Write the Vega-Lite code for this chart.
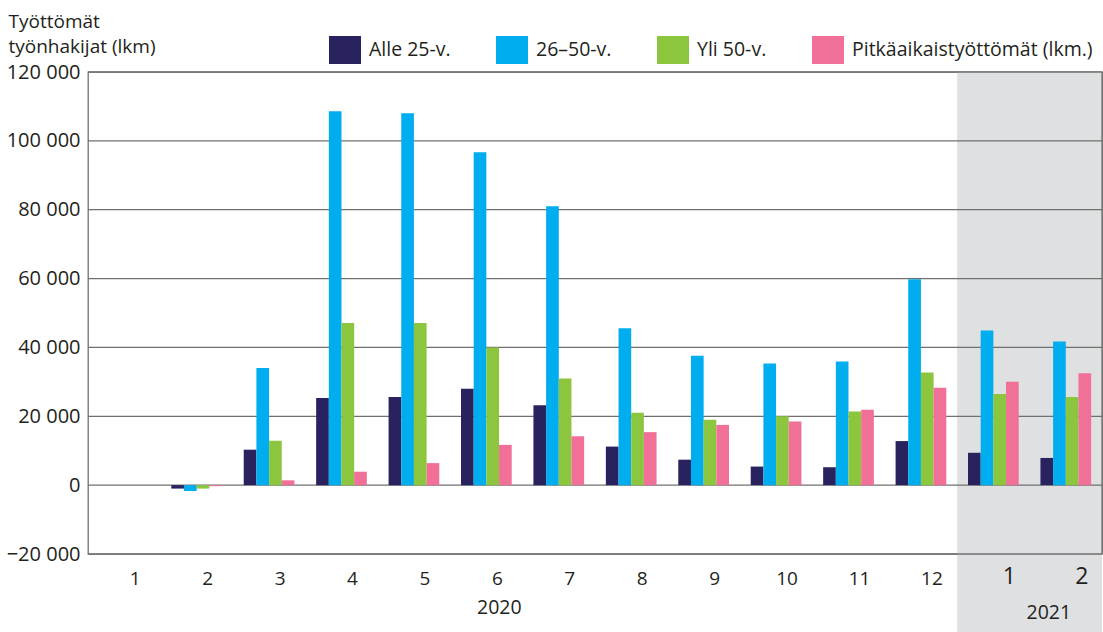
{
  "$schema": "https://vega.github.io/schema/vega-lite/v6.json",
  "width": 1014,
  "height": 482,
  "autosize": {"type": "none"},
  "padding": {"left": 88, "top": 72, "right": 1, "bottom": 78},
  "background": "white",
  "config": {
    "font": "Open Sans",
    "view": {"stroke": "#707070", "strokeWidth": 1.3},
    "axis": {"labelColor": "#231f20", "titleColor": "#231f20"},
    "legend": {"labelColor": "#231f20"}
  },
  "layer": [
    {
      "data": {"values": [{}]},
      "layer": [
        {
          "mark": {"type": "rect", "color": "#dfe0e2", "clip": false},
          "encoding": {
            "x": {"datum": 12, "type": "quantitative", "scale": {"domain": [0, 14], "nice": false, "zero": false}, "axis": null},
            "x2": {"datum": 14},
            "y": {"datum": 120000, "type": "quantitative", "scale": {"domain": [-20000, 120000], "nice": false}},
            "y2": {"datum": -43500}
          }
        },
        {
          "mark": {"type": "rule", "color": "#707070", "strokeWidth": 1.3},
          "encoding": {
            "x": {"datum": 14, "type": "quantitative", "scale": {"domain": [0, 14], "nice": false, "zero": false}, "axis": null},
            "y": {"datum": 120000, "type": "quantitative", "scale": {"domain": [-20000, 120000], "nice": false}},
            "y2": {"datum": -20000}
          }
        }
      ]
    },
    {
      "data": {"values": [
        {"taso": -20000}, {"taso": 0}, {"taso": 20000}, {"taso": 40000},
        {"taso": 60000}, {"taso": 80000}, {"taso": 100000}, {"taso": 120000}
      ]},
      "mark": {"type": "rule", "color": "#707070", "strokeWidth": 1.3},
      "encoding": {
        "y": {"field": "taso", "type": "quantitative", "scale": {"domain": [-20000, 120000], "nice": false}}
      }
    },
    {
      "layer": [
        {
          "data": {"values": [
            {"kk": "2020-1", "ryhma": "Alle 25-v.", "lkm": 0},
            {"kk": "2020-1", "ryhma": "26–50-v.", "lkm": 0},
            {"kk": "2020-1", "ryhma": "Yli 50-v.", "lkm": 0},
            {"kk": "2020-1", "ryhma": "Pitkäaikaistyöttömät (lkm.)", "lkm": 0},
            {"kk": "2020-2", "ryhma": "Alle 25-v.", "lkm": -1000},
            {"kk": "2020-2", "ryhma": "26–50-v.", "lkm": -1700},
            {"kk": "2020-2", "ryhma": "Yli 50-v.", "lkm": -1000},
            {"kk": "2020-2", "ryhma": "Pitkäaikaistyöttömät (lkm.)", "lkm": -300},
            {"kk": "2020-3", "ryhma": "Alle 25-v.", "lkm": 10300},
            {"kk": "2020-3", "ryhma": "26–50-v.", "lkm": 34000},
            {"kk": "2020-3", "ryhma": "Yli 50-v.", "lkm": 12900},
            {"kk": "2020-3", "ryhma": "Pitkäaikaistyöttömät (lkm.)", "lkm": 1400},
            {"kk": "2020-4", "ryhma": "Alle 25-v.", "lkm": 25300},
            {"kk": "2020-4", "ryhma": "26–50-v.", "lkm": 108600},
            {"kk": "2020-4", "ryhma": "Yli 50-v.", "lkm": 47100},
            {"kk": "2020-4", "ryhma": "Pitkäaikaistyöttömät (lkm.)", "lkm": 3900},
            {"kk": "2020-5", "ryhma": "Alle 25-v.", "lkm": 25600},
            {"kk": "2020-5", "ryhma": "26–50-v.", "lkm": 108000},
            {"kk": "2020-5", "ryhma": "Yli 50-v.", "lkm": 47100},
            {"kk": "2020-5", "ryhma": "Pitkäaikaistyöttömät (lkm.)", "lkm": 6400},
            {"kk": "2020-6", "ryhma": "Alle 25-v.", "lkm": 28000},
            {"kk": "2020-6", "ryhma": "26–50-v.", "lkm": 96700},
            {"kk": "2020-6", "ryhma": "Yli 50-v.", "lkm": 40000},
            {"kk": "2020-6", "ryhma": "Pitkäaikaistyöttömät (lkm.)", "lkm": 11700},
            {"kk": "2020-7", "ryhma": "Alle 25-v.", "lkm": 23200},
            {"kk": "2020-7", "ryhma": "26–50-v.", "lkm": 81000},
            {"kk": "2020-7", "ryhma": "Yli 50-v.", "lkm": 31000},
            {"kk": "2020-7", "ryhma": "Pitkäaikaistyöttömät (lkm.)", "lkm": 14200},
            {"kk": "2020-8", "ryhma": "Alle 25-v.", "lkm": 11200},
            {"kk": "2020-8", "ryhma": "26–50-v.", "lkm": 45600},
            {"kk": "2020-8", "ryhma": "Yli 50-v.", "lkm": 21000},
            {"kk": "2020-8", "ryhma": "Pitkäaikaistyöttömät (lkm.)", "lkm": 15400},
            {"kk": "2020-9", "ryhma": "Alle 25-v.", "lkm": 7400},
            {"kk": "2020-9", "ryhma": "26–50-v.", "lkm": 37600},
            {"kk": "2020-9", "ryhma": "Yli 50-v.", "lkm": 19000},
            {"kk": "2020-9", "ryhma": "Pitkäaikaistyöttömät (lkm.)", "lkm": 17500},
            {"kk": "2020-10", "ryhma": "Alle 25-v.", "lkm": 5400},
            {"kk": "2020-10", "ryhma": "26–50-v.", "lkm": 35300},
            {"kk": "2020-10", "ryhma": "Yli 50-v.", "lkm": 20000},
            {"kk": "2020-10", "ryhma": "Pitkäaikaistyöttömät (lkm.)", "lkm": 18500},
            {"kk": "2020-11", "ryhma": "Alle 25-v.", "lkm": 5200},
            {"kk": "2020-11", "ryhma": "26–50-v.", "lkm": 35900},
            {"kk": "2020-11", "ryhma": "Yli 50-v.", "lkm": 21400},
            {"kk": "2020-11", "ryhma": "Pitkäaikaistyöttömät (lkm.)", "lkm": 21900},
            {"kk": "2020-12", "ryhma": "Alle 25-v.", "lkm": 12800},
            {"kk": "2020-12", "ryhma": "26–50-v.", "lkm": 59800},
            {"kk": "2020-12", "ryhma": "Yli 50-v.", "lkm": 32700},
            {"kk": "2020-12", "ryhma": "Pitkäaikaistyöttömät (lkm.)", "lkm": 28300},
            {"kk": "2021-1", "ryhma": "Alle 25-v.", "lkm": 9400},
            {"kk": "2021-1", "ryhma": "26–50-v.", "lkm": 44900},
            {"kk": "2021-1", "ryhma": "Yli 50-v.", "lkm": 26500},
            {"kk": "2021-1", "ryhma": "Pitkäaikaistyöttömät (lkm.)", "lkm": 30000},
            {"kk": "2021-2", "ryhma": "Alle 25-v.", "lkm": 7900},
            {"kk": "2021-2", "ryhma": "26–50-v.", "lkm": 41700},
            {"kk": "2021-2", "ryhma": "Yli 50-v.", "lkm": 25600},
            {"kk": "2021-2", "ryhma": "Pitkäaikaistyöttömät (lkm.)", "lkm": 32500}
          ]},
          "mark": {"type": "bar"},
          "encoding": {
            "x": {
              "field": "kk", "type": "nominal",
              "scale": {
                "domain": ["2020-1", "2020-2", "2020-3", "2020-4", "2020-5", "2020-6", "2020-7", "2020-8", "2020-9", "2020-10", "2020-11", "2020-12", "2021-1", "2021-2"],
                "paddingInner": 0.3, "paddingOuter": 0.15
              },
              "axis": {
                "title": null, "domain": false, "ticks": false, "tickSize": 0, "grid": false,
                "zindex": 1,
                "labelAngle": 0,
                "labelExpr": "split(datum.value, '-')[1]",
                "labelBaseline": "middle",
                "labelFontSize": {"condition": {"test": "indexof(datum.value, '2021') === 0", "value": 23}, "value": 19},
                "labelOffset": {"condition": {"test": "indexof(datum.value, '2021') === 0", "value": 16}, "value": 11},
                "labelPadding": {"condition": {"test": "indexof(datum.value, '2021') === 0", "value": 22}, "value": 24}
              }
            },
            "xOffset": {
              "field": "ryhma", "type": "nominal",
              "scale": {"domain": ["Alle 25-v.", "26–50-v.", "Yli 50-v.", "Pitkäaikaistyöttömät (lkm.)"], "paddingInner": 0, "paddingOuter": 0}
            },
            "y": {
              "field": "lkm", "type": "quantitative",
              "scale": {"domain": [-20000, 120000], "nice": false},
              "axis": {
                "values": [-20000, 0, 20000, 40000, 60000, 80000, 100000, 120000],
                "grid": false, "domain": false, "ticks": false, "tickSize": 0,
                "zindex": 1,
                "labelPadding": 8, "labelFontSize": 20,
                "labelExpr": "replace(format(datum.value, ','), ',', ' ')",
                "title": ["Työttömät", "työnhakijat (lkm)"],
                "titleAngle": 0, "titleAlign": "left", "titleBaseline": "alphabetic",
                "titleX": -80, "titleY": -45, "titleFontSize": 19, "titleFontWeight": "normal",
                "titleLineHeight": 25
              }
            },
            "color": {
              "field": "ryhma", "type": "nominal",
              "scale": {
                "domain": ["Alle 25-v.", "26–50-v.", "Yli 50-v.", "Pitkäaikaistyöttömät (lkm.)"],
                "range": ["#28235f", "#00adee", "#8cc63f", "#f07098"]
              },
              "legend": {
                "title": null, "orient": "none", "direction": "horizontal",
                "legendX": 241, "legendY": -38, "padding": 0,
                "symbolType": "M-1,-0.875H1V0.875H-1Z", "symbolSize": 1024,
                "symbolStrokeWidth": 0, "symbolOpacity": 1,
                "labelFontSize": 19.5, "labelOffset": 8, "labelLimit": 400, "columnPadding": 45
              }
            }
          }
        },
        {
          "data": {"values": [{"vuosi": "2020", "kk": "2020-6"}]},
          "mark": {"type": "text", "fontSize": 19.5, "color": "#231f20", "baseline": "middle", "dx": 13, "dy": 53.5},
          "encoding": {
            "x": {"field": "kk", "type": "nominal"},
            "y": {"datum": -20000, "type": "quantitative", "scale": {"domain": [-20000, 120000], "nice": false}},
            "text": {"field": "vuosi"}
          }
        },
        {
          "data": {"values": [{"vuosi": "2021", "kk": "2021-2"}]},
          "mark": {"type": "text", "fontSize": 19.5, "color": "#231f20", "baseline": "middle", "dx": -17, "dy": 58.5},
          "encoding": {
            "x": {"field": "kk", "type": "nominal"},
            "y": {"datum": -20000, "type": "quantitative", "scale": {"domain": [-20000, 120000], "nice": false}},
            "text": {"field": "vuosi"}
          }
        }
      ]
    }
  ],
  "resolve": {"scale": {"x": "independent"}}
}
